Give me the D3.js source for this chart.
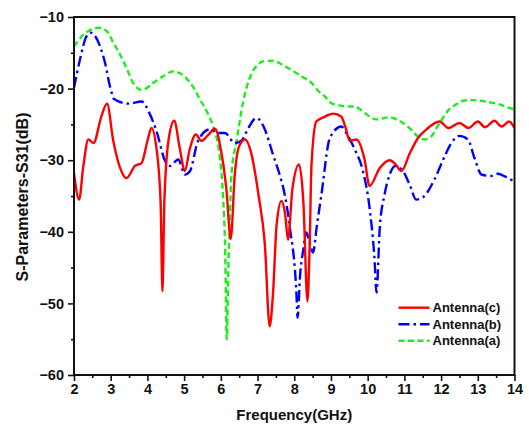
<!DOCTYPE html>
<html>
<head>
<meta charset="utf-8">
<script src="https://cdn.jsdelivr.net/npm/d3@7"></script>
<style>
  body { margin: 0; background: #fff; }
  svg text { font-family: "Liberation Sans", Arial, sans-serif; font-weight: bold; fill: #111; }
</style>
</head>
<body>
<div id="chart"></div>
<script>
// Antenna(c) - solid red
const freqC = [2.0, 2.14, 2.25, 2.39, 2.53, 2.75, 2.9, 3.07, 3.25, 3.43, 3.66, 3.84, 4.02, 4.11, 4.25, 4.36, 4.41, 4.46, 4.58, 4.73, 4.88, 5.02, 5.15, 5.32, 5.47, 5.65, 5.84, 6.0, 6.15, 6.27, 6.38, 6.5, 6.66, 6.85, 7.03, 7.2, 7.33, 7.42, 7.52, 7.65, 7.75, 7.83, 7.95, 8.13, 8.25, 8.36, 8.42, 8.47, 8.6, 8.8, 9.06, 9.28, 9.4, 9.51, 9.69, 9.92, 10.05, 10.33, 10.6, 10.75, 10.92, 11.15, 11.37, 11.6, 11.96, 12.2, 12.5, 12.75, 13.0, 13.2, 13.45, 13.65, 13.85, 14.0];
const antennaC = [-31.8, -35.5, -31, -27.1, -27.6, -23.8, -22.1, -27.3, -31, -32.5, -30.8, -30.4, -26.9, -25.5, -28.5, -36, -48.3, -36, -27, -24.5, -28.3, -31.5, -28.5, -26.4, -27.3, -26.5, -25.6, -28.5, -34, -41, -32, -28, -27.1, -29.5, -35, -41.8, -53.2, -48.7, -39, -35.7, -37.5, -41.1, -34, -30.6, -36, -49.7, -41.8, -30.6, -24.6, -24, -23.5, -23.9, -25.5, -27.3, -27.1, -30, -33.6, -31.1, -30, -30.5, -31.5, -29, -26.9, -25.7, -24.6, -25.5, -24.8, -25.5, -24.6, -25.4, -24.5, -25.3, -24.6, -25.5];

// Antenna(b) - blue dash-dot
const freqB = [2.0, 2.16, 2.34, 2.46, 2.71, 2.85, 2.98, 3.1, 3.48, 3.84, 4.07, 4.25, 4.48, 4.61, 4.84, 5.02, 5.16, 5.38, 5.7, 5.93, 6.11, 6.38, 6.56, 6.75, 6.97, 7.2, 7.42, 7.6, 7.74, 7.88, 8.06, 8.09, 8.16, 8.24, 8.33, 8.42, 8.51, 8.62, 8.74, 8.97, 9.28, 9.45, 9.65, 9.87, 10.05, 10.19, 10.24, 10.33, 10.46, 10.6, 10.75, 10.96, 11.15, 11.32, 11.5, 11.82, 12.05, 12.28, 12.5, 12.73, 12.91, 13.1, 13.35, 13.55, 13.75, 14.0];
const antennaB = [-19.9, -16, -12.7, -12.2, -14.1, -16.5, -19.7, -21.5, -22.1, -21.8, -23.6, -26, -30.1, -30.8, -29.9, -32, -31.5, -27.3, -25.7, -26.2, -26.2, -27.6, -27.3, -25.5, -24.1, -25.7, -29.2, -32, -34.8, -39.4, -48.7, -52, -46, -42.7, -40.1, -41.5, -42.9, -39, -34.8, -26.9, -25.3, -26.5, -28.5, -31.5, -36.6, -44.1, -48.5, -39.4, -34.8, -32, -30.8, -31.5, -33.5, -35.5, -35.2, -32.7, -30, -27.6, -26.6, -27.1, -29.7, -32, -32.2, -31.9, -32.3, -33];

// Antenna(a) - green dashed
const freqA = [2.0, 2.25, 2.45, 2.68, 2.9, 3.07, 3.25, 3.43, 3.61, 3.85, 4.16, 4.45, 4.7, 4.9, 5.07, 5.25, 5.43, 5.62, 5.79, 5.97, 6.06, 6.12, 6.16, 6.2, 6.24, 6.29, 6.43, 6.61, 6.83, 7.0, 7.15, 7.42, 7.65, 7.92, 8.2, 8.47, 8.65, 8.83, 9.0, 9.19, 9.45, 9.65, 9.87, 10.05, 10.24, 10.6, 10.78, 10.96, 11.2, 11.37, 11.55, 11.73, 11.9, 12.05, 12.2, 12.41, 12.6, 12.78, 13.05, 13.3, 13.59, 13.8, 14.0];
const antennaA = [-14.1, -12.5, -11.8, -11.5, -12, -13.6, -15.2, -17.1, -19.2, -20.2, -19.2, -18.2, -17.6, -17.9, -18.6, -19.8, -21.5, -23.2, -25.3, -29.5, -35, -43, -55, -46, -39, -32, -27.3, -21.8, -18, -16.7, -16.2, -16.1, -16.6, -17.4, -18.3, -19.2, -20.3, -21.1, -22, -22.3, -22.5, -22.5, -23.2, -23.9, -24.3, -24, -24.3, -24.8, -25.8, -26.7, -27.1, -26.7, -25.3, -24.1, -23, -22.2, -21.7, -21.6, -21.7, -21.9, -22.2, -22.6, -22.9];

const xTicks = [2, 3, 4, 5, 6, 7, 8, 9, 10, 11, 12, 13, 14];
const yTicks = [-60, -50, -40, -30, -20, -10];

const series = [
    { name: "Antenna(c)", freq: freqC, vals: antennaC, color: "#ff0000", dash: null },
    { name: "Antenna(b)", freq: freqB, vals: antennaB, color: "#0000ff", dash: "11,4,2.5,4" },
    { name: "Antenna(a)", freq: freqA, vals: antennaA, color: "#19f019", dash: "6,3.5" }
];

const width = 529, height = 425;
const margin = { top: 17, right: 14.5, bottom: 50, left: 74 };
const plotWidth = width - margin.left - margin.right;
const plotHeight = height - margin.top - margin.bottom;

const svg = d3.select("#chart").append("svg")
    .attr("width", width).attr("height", height)
    .style("background", "#fff");

const g = svg.append("g").attr("transform", `translate(${margin.left},${margin.top})`);

const x = d3.scaleLinear().domain([2, 14]).range([0, plotWidth]);
const y = d3.scaleLinear().domain([-60, -10]).range([plotHeight, 0]);

// minor ticks (no labels)
const xMinor = d3.range(2.5, 14, 1);
const yMinor = d3.range(-55, -10, 10);
g.append("g").attr("transform", `translate(0,${plotHeight})`)
    .call(d3.axisBottom(x).tickValues(xMinor).tickSize(3).tickFormat(""))
    .call(a => a.select(".domain").remove())
    .selectAll("line").attr("stroke", "#111").attr("stroke-width", 1.6);
g.append("g")
    .call(d3.axisLeft(y).tickValues(yMinor).tickSize(3).tickFormat(""))
    .call(a => a.select(".domain").remove())
    .selectAll("line").attr("stroke", "#111").attr("stroke-width", 1.6);

// major axes
const xAxis = g.append("g").attr("transform", `translate(0,${plotHeight})`)
    .call(d3.axisBottom(x).tickValues(xTicks).tickSize(6).tickSizeOuter(0).tickPadding(3));
const yAxis = g.append("g")
    .call(d3.axisLeft(y).tickValues(yTicks).tickSize(6).tickSizeOuter(0).tickPadding(4));
[xAxis, yAxis].forEach(a => {
    a.select(".domain").remove();
    a.selectAll("line").attr("stroke", "#111").attr("stroke-width", 1.6);
    a.selectAll("text").style("font-size", "14.5px").attr("fill", "#111");
});

// lines
svg.append("clipPath").attr("id", "clip")
    .append("rect").attr("width", plotWidth).attr("height", plotHeight);

const line = d3.line()
    .x(d => x(d[0]))
    .y(d => y(d[1]))
    .curve(d3.curveMonotoneX);

const lines = g.append("g").attr("clip-path", "url(#clip)");
// draw green first, red on top
series.slice().reverse().forEach(s => {
    lines.append("path")
        .datum(s.freq.map((f, i) => [f, s.vals[i]]))
        .attr("fill", "none")
        .attr("stroke", s.color)
        .attr("stroke-width", 2.4)
        .attr("stroke-dasharray", s.dash)
        .attr("d", line);
});

// frame
g.append("rect")
    .attr("width", plotWidth).attr("height", plotHeight)
    .attr("fill", "none").attr("stroke", "#111").attr("stroke-width", 2);

// legend
const legend = g.append("g").attr("transform", `translate(${x(10.84)},${y(-50.6)})`);
series.forEach((s, i) => {
    const row = legend.append("g").attr("transform", `translate(0,${i * 16.5})`);
    row.append("line")
        .attr("x1", 0).attr("x2", 31)
        .attr("stroke", s.color).attr("stroke-width", 2.4)
        .attr("stroke-dasharray", s.dash);
    row.append("text")
        .attr("x", 34).attr("dy", "0.35em")
        .style("font-size", "13px")
        .text(s.name);
});

// axis titles
svg.append("text")
    .attr("x", margin.left + plotWidth / 2)
    .attr("y", 420)
    .attr("text-anchor", "middle")
    .style("font-size", "15px")
    .text("Frequency(GHz)");

svg.append("text")
    .attr("transform", "rotate(-90)")
    .attr("x", -197)
    .attr("y", 28)
    .attr("text-anchor", "middle")
    .style("font-size", "16px")
    .text("S-Parameters-S31(dB)");
</script>
</body>
</html>
